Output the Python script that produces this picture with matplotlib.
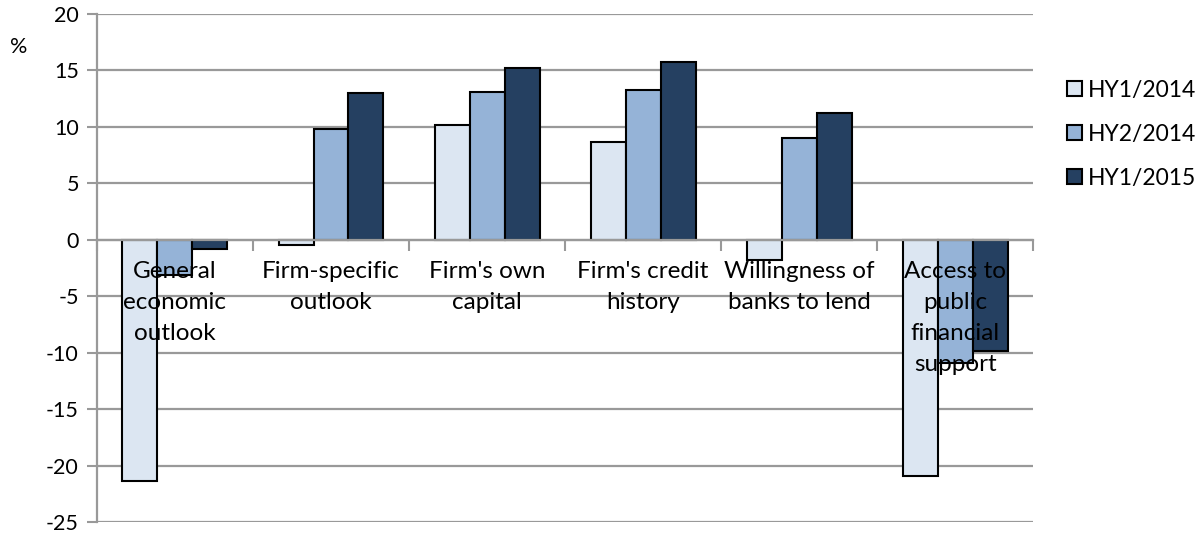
import numpy as np
import matplotlib.pyplot as plt

plt.rcParams['font.family'] = ['Lato', 'DejaVu Sans']
plt.rcParams['axes.unicode_minus'] = False

categories = ["General\neconomic\noutlook", "Firm-specific\noutlook", "Firm's own\ncapital",
              "Firm's credit\nhistory", "Willingness of\nbanks to lend",
              "Access to\npublic\nfinancial\nsupport"]
series = ["HY1/2014", "HY2/2014", "HY1/2015"]
hy1_2014 = [-21.3, -0.5, 10.2, 8.7, -1.8, -20.9]
hy2_2014 = [-3.1, 9.8, 13.1, 13.3, 9.0, -10.9]
hy1_2015 = [-0.8, 13.0, 15.2, 15.7, 11.2, -9.8]
colors = ["#DCE6F2", "#95B3D7", "#254061"]

fig = plt.figure(figsize=(11.96, 5.33), dpi=100)
ax = fig.add_axes([0.081, 0.02, 0.783, 0.954])

x = np.arange(len(categories))
w = 0.224
for i, (vals, c, lab) in enumerate(zip([hy1_2014, hy2_2014, hy1_2015], colors, series)):
    ax.bar(x + (i - 1) * w, vals, w, color=c, edgecolor="black", linewidth=1.5,
           label=lab, zorder=3)

ax.set_xlim(-0.5, len(categories) - 0.5)
ax.set_ylim(-25, 20)
ax.set_yticks(np.arange(-25, 21, 5))
ax.yaxis.grid(True, color="#999999", linewidth=1.6, zorder=0)
ax.tick_params(axis="y", length=7, width=1.5, color="#999999", labelsize=15.5, pad=6)

for s in ["top", "right"]:
    ax.spines[s].set_visible(False)
ax.spines["left"].set_color("#999999")
ax.spines["left"].set_linewidth(1.6)
ax.spines["bottom"].set_position(("data", 0))
ax.spines["bottom"].set_color("#999999")
ax.spines["bottom"].set_linewidth(1.6)
ax.spines["bottom"].set_zorder(4)

ax.set_xticks(np.arange(len(categories) + 1) - 0.5)
ax.set_xticklabels([])
ax.tick_params(axis="x", length=8, width=1.5, color="#999999", direction="out")

# category labels sit just under the zero line, over the bars
for xi, lab in zip(x, categories):
    ax.annotate(lab, (xi, 0), xytext=(0, -15), textcoords="offset points",
                ha="center", va="top", fontsize=17.5, linespacing=1.6,
                zorder=10, annotation_clip=False)

fig.text(0.008, 0.9, "%", fontsize=15.5)

fig.legend(loc="center left", bbox_to_anchor=(0.892, 0.748), frameon=False,
           fontsize=16.5, handlelength=0.65, handleheight=0.65, handletextpad=0.25,
           labelspacing=1.0, borderaxespad=0, borderpad=0)

fig.savefig("out.png", dpi=100)
